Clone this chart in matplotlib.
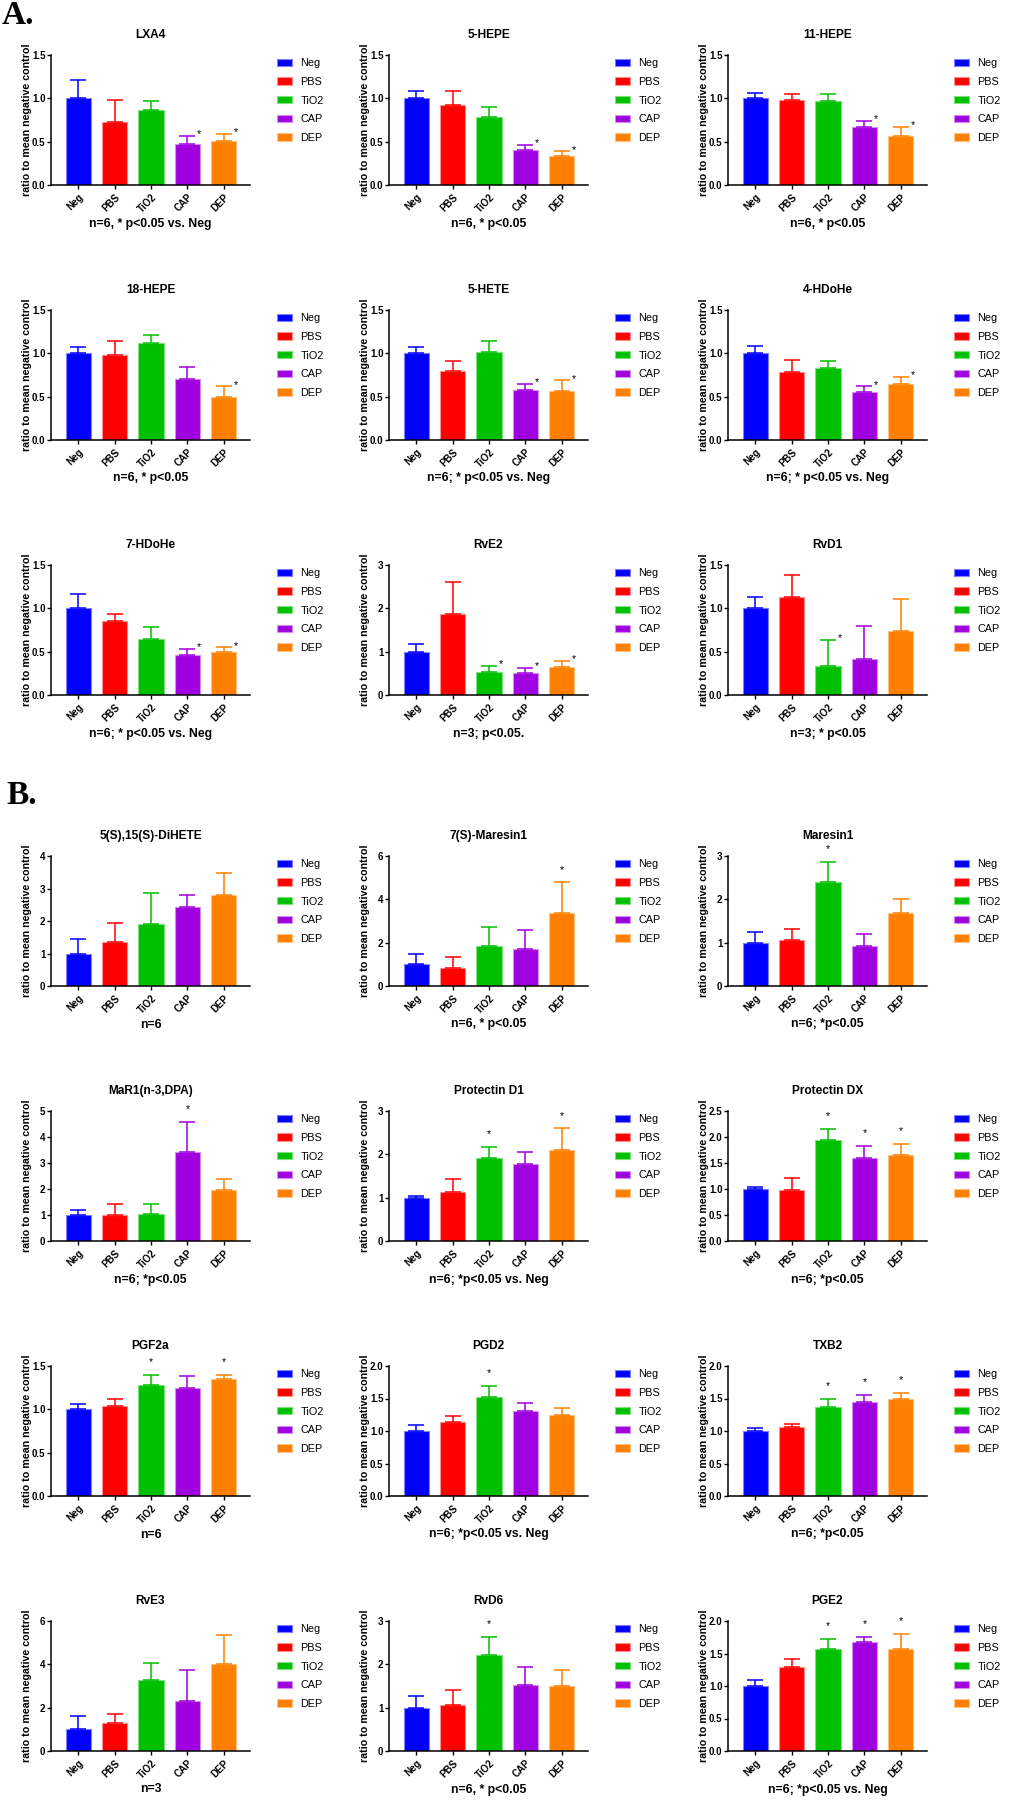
import matplotlib
matplotlib.use('Agg')
import matplotlib.pyplot as plt
import numpy as np
from matplotlib.ticker import FormatStrFormatter

plt.rcParams['font.family'] = ['Liberation Sans', 'DejaVu Sans']

groups = ['Neg', 'PBS', 'TiO2', 'CAP', 'DEP']
colors = ['#0000ff', '#ff0000', '#00c000', '#a000e0', '#ff8000']
edges = ['#8080ff', '#ff9090', '#80e080', '#d090f0', '#ffc080']

# --- A. panels: mean ratio and SEM ---
lxa4 = [1.0, 0.73, 0.87, 0.47, 0.51]
lxa4_sem = [0.21, 0.25, 0.10, 0.095, 0.08]
hepe5 = [1.0, 0.925, 0.79, 0.40, 0.34]
hepe5_sem = [0.09, 0.165, 0.11, 0.06, 0.05]
hepe11 = [1.0, 0.98, 0.97, 0.67, 0.57]
hepe11_sem = [0.06, 0.07, 0.08, 0.07, 0.10]
hepe18 = [1.0, 0.98, 1.12, 0.70, 0.50]
hepe18_sem = [0.07, 0.16, 0.09, 0.14, 0.12]
hete5 = [1.0, 0.80, 1.02, 0.58, 0.57]
hete5_sem = [0.07, 0.11, 0.12, 0.07, 0.12]
hdohe4 = [1.0, 0.78, 0.83, 0.55, 0.65]
hdohe4_sem = [0.09, 0.14, 0.08, 0.07, 0.08]
hdohe7 = [1.0, 0.85, 0.65, 0.456, 0.50]
hdohe7_sem = [0.16, 0.09, 0.14, 0.074, 0.05]
rve2 = [1.0, 1.86, 0.53, 0.51, 0.64]
rve2_sem = [0.18, 0.75, 0.135, 0.12, 0.15]
rvd1 = [1.0, 1.13, 0.33, 0.41, 0.74]
rvd1_sem = [0.13, 0.25, 0.31, 0.39, 0.37]

# --- B. panels ---
dihete = [1.0, 1.34, 1.90, 2.42, 2.80]
dihete_sem = [0.44, 0.59, 0.97, 0.39, 0.69]
mar7s = [1.0, 0.83, 1.85, 1.73, 3.37]
mar7s_sem = [0.46, 0.51, 0.86, 0.84, 1.41]
maresin1 = [1.0, 1.06, 2.39, 0.92, 1.68]
maresin1_sem = [0.25, 0.25, 0.47, 0.29, 0.33]
mar1_dpa = [1.0, 1.0, 1.03, 3.41, 1.95]
mar1_dpa_sem = [0.21, 0.41, 0.41, 1.17, 0.44]
pd1 = [1.0, 1.14, 1.92, 1.78, 2.11]
pd1_sem = [0.05, 0.29, 0.25, 0.28, 0.49]
pdx = [1.0, 0.975, 1.95, 1.59, 1.65]
pdx_sem = [0.04, 0.235, 0.20, 0.24, 0.21]
pgf2a = [1.0, 1.035, 1.28, 1.25, 1.35]
pgf2a_sem = [0.06, 0.085, 0.12, 0.13, 0.05]
pgd2 = [1.0, 1.14, 1.53, 1.305, 1.24]
pgd2_sem = [0.09, 0.09, 0.16, 0.125, 0.11]
txb2 = [1.0, 1.055, 1.37, 1.45, 1.485]
txb2_sem = [0.04, 0.05, 0.13, 0.105, 0.105]
rve3 = [1.0, 1.28, 3.27, 2.31, 4.01]
rve3_sem = [0.61, 0.45, 0.80, 1.41, 1.35]
rvd6 = [1.0, 1.07, 2.21, 1.52, 1.49]
rvd6_sem = [0.26, 0.34, 0.43, 0.41, 0.39]
pge2 = [1.0, 1.30, 1.565, 1.67, 1.575]
pge2_sem = [0.09, 0.11, 0.165, 0.09, 0.225]

# title, mean, sem, ymax, ystep, significant groups, footnote
panels_a = [
    ('LXA4', lxa4, lxa4_sem, 1.5, 0.5, [3, 4], 'n=6, * p<0.05 vs. Neg'),
    ('5-HEPE', hepe5, hepe5_sem, 1.5, 0.5, [3, 4], 'n=6, * p<0.05'),
    ('11-HEPE', hepe11, hepe11_sem, 1.5, 0.5, [3, 4], 'n=6, * p<0.05'),
    ('18-HEPE', hepe18, hepe18_sem, 1.5, 0.5, [4], 'n=6, * p<0.05'),
    ('5-HETE', hete5, hete5_sem, 1.5, 0.5, [3, 4], 'n=6; * p<0.05 vs. Neg'),
    ('4-HDoHe', hdohe4, hdohe4_sem, 1.5, 0.5, [3, 4], 'n=6; * p<0.05 vs. Neg'),
    ('7-HDoHe', hdohe7, hdohe7_sem, 1.5, 0.5, [3, 4], 'n=6; * p<0.05 vs. Neg'),
    ('RvE2', rve2, rve2_sem, 3, 1, [2, 3, 4], 'n=3; p<0.05.'),
    ('RvD1', rvd1, rvd1_sem, 1.5, 0.5, [2], 'n=3; * p<0.05'),
]
panels_b = [
    ('5(S),15(S)-DiHETE', dihete, dihete_sem, 4, 1, [], 'n=6'),
    ('7(S)-Maresin1', mar7s, mar7s_sem, 6, 2, [4], 'n=6, * p<0.05'),
    ('Maresin1', maresin1, maresin1_sem, 3, 1, [2], 'n=6; *p<0.05'),
    ('MaR1(n-3,DPA)', mar1_dpa, mar1_dpa_sem, 5, 1, [3], 'n=6; *p<0.05'),
    ('Protectin D1', pd1, pd1_sem, 3, 1, [2, 4], 'n=6; *p<0.05 vs. Neg'),
    ('Protectin DX', pdx, pdx_sem, 2.5, 0.5, [2, 3, 4], 'n=6; *p<0.05'),
    ('PGF2a', pgf2a, pgf2a_sem, 1.5, 0.5, [2, 4], 'n=6'),
    ('PGD2', pgd2, pgd2_sem, 2.0, 0.5, [2], 'n=6; *p<0.05 vs. Neg'),
    ('TXB2', txb2, txb2_sem, 2.0, 0.5, [2, 3, 4], 'n=6; *p<0.05'),
    ('RvE3', rve3, rve3_sem, 6, 2, [], 'n=3'),
    ('RvD6', rvd6, rvd6_sem, 3, 1, [2], 'n=6, * p<0.05'),
    ('PGE2', pge2, pge2_sem, 2.0, 0.5, [2, 3, 4], 'n=6; *p<0.05 vs. Neg'),
]

W, H = 1013, 1800
fig = plt.figure(figsize=(W / 100, H / 100), dpi=100)

col_left = [51, 389, 728]
ax_w, ax_h = 199, 130
rows_a = [55, 310, 565]
rows_b = [856, 1111, 1366, 1621]


def draw_panel(top, left, panel, star_side):
    title, mean, sem, ymax, ystep, stars, note = panel
    ax = fig.add_axes([left / W, 1 - (top + ax_h) / H, ax_w / W, ax_h / H])
    x = np.arange(len(groups))
    bars = ax.bar(x, mean, width=0.69, color=colors, edgecolor=edges,
                  linewidth=0.8, zorder=2)
    for i in range(len(groups)):
        ax.errorbar(x[i], mean[i], yerr=[[0], [sem[i]]], color=colors[i],
                    capsize=5.5, capthick=1.1, elinewidth=1.1, zorder=3)
    for i in stars:
        if star_side:
            ax.annotate('*', xy=(x[i], mean[i] + sem[i]), xytext=(8.5, -1),
                        textcoords='offset points', ha='center', va='baseline',
                        fontsize=7.5, annotation_clip=False)
        else:
            ax.annotate('*', xy=(x[i], mean[i] + sem[i]), xytext=(0, 7),
                        textcoords='offset points', ha='center', va='baseline',
                        fontsize=7.5, annotation_clip=False)

    ax.set_xlim(-0.75, 4.72)
    ax.set_ylim(0, ymax)
    ax.set_yticks(np.arange(0, ymax + 1e-9, ystep))
    ax.yaxis.set_major_formatter(FormatStrFormatter('%d' if ystep >= 1 else '%.1f'))
    ax.set_xticks(x)
    ax.set_xticklabels(groups, rotation=45, ha='right', rotation_mode='anchor',
                       fontweight='bold', fontsize=7)
    for lab in ax.get_yticklabels():
        lab.set_fontweight('bold')
    ax.tick_params(axis='both', direction='out', length=3, width=1, labelsize=7)
    ax.tick_params(axis='y', pad=1)
    ax.tick_params(axis='x', pad=2)
    for s in ['top', 'right']:
        ax.spines[s].set_visible(False)
    for s in ['left', 'bottom']:
        ax.spines[s].set_linewidth(1.1)

    ax.set_title(title, fontsize=8.6, fontweight='bold', pad=12.5)
    ax.set_ylabel('ratio to mean negative control', fontsize=7.7, fontweight='bold')
    ax.yaxis.set_label_coords(-0.095, 0.5)
    ax.set_xlabel(note, fontsize=8.8, fontweight='bold')
    ax.xaxis.set_label_coords(0.5, -0.25)
    ax.legend(bars, groups, loc='upper left', bbox_to_anchor=(1.136, 0.975),
              frameon=False, fontsize=7.8, handlelength=1.4, handleheight=0.65,
              labelspacing=0.8, handletextpad=0.75, borderaxespad=0, borderpad=0)


for k, panel in enumerate(panels_a):
    draw_panel(rows_a[k // 3], col_left[k % 3], panel, True)
for k, panel in enumerate(panels_b):
    draw_panel(rows_b[k // 3], col_left[k % 3], panel, False)

fig.text(2 / W, 1 - 0 / H, 'A.', fontsize=24, fontweight='bold',
         family='Liberation Serif', va='top', ha='left')
fig.text(6 / W, 1 - 780 / H, 'B.', fontsize=24, fontweight='bold',
         family='Liberation Serif', va='top', ha='left')

fig.savefig('out.png', dpi=100)
